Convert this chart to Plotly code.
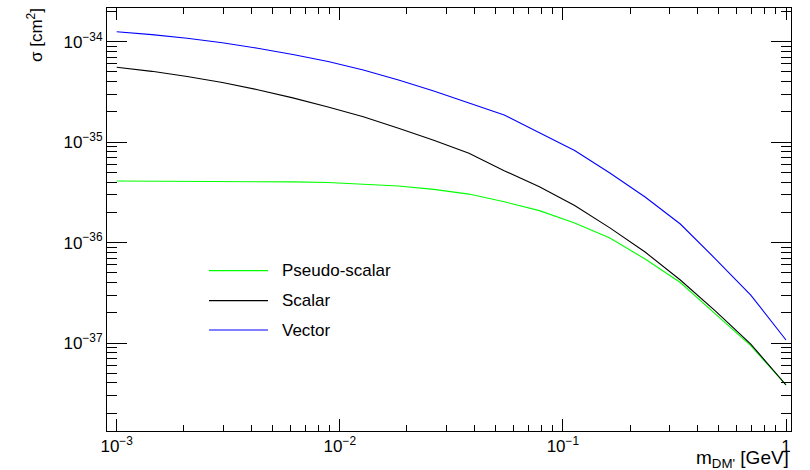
import plotly.graph_objects as go

# ---- data ----
mass_gev = [0.001, 0.001438, 0.002069, 0.002976, 0.004281, 0.006158, 0.008859,
            0.012743, 0.01833, 0.026367, 0.037927, 0.054556, 0.078476, 0.112884,
            0.162378, 0.233572, 0.335982, 0.483293, 0.695193, 1.0]

sigma_pseudoscalar = [4.10e-36, 4.09e-36, 4.08e-36, 4.06e-36, 4.05e-36, 4.02e-36, 3.96e-36,
                      3.83e-36, 3.66e-36, 3.39e-36, 3.04e-36, 2.55e-36, 2.08e-36, 1.57e-36,
                      1.11e-36, 6.86e-37, 4.00e-37, 1.94e-37, 9.44e-38, 3.82e-38]

sigma_scalar = [5.56e-35, 5.07e-35, 4.51e-35, 3.93e-35, 3.33e-35, 2.76e-35, 2.24e-35,
                1.79e-35, 1.376e-35, 1.043e-35, 7.74e-36, 5.19e-36, 3.60e-36, 2.34e-36,
                1.40e-36, 8.05e-37, 4.24e-37, 2.08e-37, 9.77e-38, 3.82e-38]

sigma_vector = [1.258e-34, 1.177e-34, 1.081e-34, 9.75e-35, 8.62e-35, 7.47e-35, 6.35e-35,
                5.23e-35, 4.155e-35, 3.228e-35, 2.452e-35, 1.863e-35, 1.242e-35, 8.25e-36,
                4.93e-36, 2.84e-36, 1.53e-36, 6.86e-37, 3.00e-37, 1.071e-37]

series_names = ["Pseudo-scalar", "Scalar", "Vector"]
series_colors = ["#00ff00", "#000000", "#0000ff"]
series_values = [sigma_pseudoscalar, sigma_scalar, sigma_vector]

x_major_ticks = [1e-3, 1e-2, 1e-1, 1]
x_tick_labels = ["10<sup>−3</sup>", "10<sup>−2</sup>", "10<sup>−1</sup>", "1"]
y_major_ticks = [1e-37, 1e-36, 1e-35, 1e-34]
y_tick_labels = ["10<sup>−37</sup>", "10<sup>−36</sup>", "10<sup>−35</sup>", "10<sup>−34</sup>"]
x_decades = [-4, -3, -2, -1, 0]
y_decades = [-38, -37, -36, -35, -34]

FONT = "Liberation Sans, Arial, Helvetica, sans-serif"

x_minor_ticks = [m * 10.0 ** e for e in x_decades for m in range(2, 10)]
y_minor_ticks = [m * 10.0 ** e for e in y_decades for m in range(2, 10)]

X_RANGE = [-3.0435, 0.0224]
Y_RANGE = [-37.876, -33.6644]

fig = go.Figure()
for name, color, vals in zip(series_names, series_colors, series_values):
    fig.add_trace(go.Scatter(x=mass_gev, y=vals, mode="lines", name=name,
                             line=dict(color=color, width=1.1), showlegend=False))
# empty trace to activate the overlay axes that carry the minor ticks
fig.add_trace(go.Scatter(x=[None], y=[None], xaxis="x2", yaxis="y2", mode="lines",
                         showlegend=False, hoverinfo="skip"))

W, H = 810, 470
ML, MR, MT, MB = 107, 19, 8, 39
pw, ph = W - ML - MR, H - MT - MB


def px_to_paper_x(px):
    return (px - ML) / pw


def px_to_paper_y(py):
    return 1 - (py - MT) / ph


common_axis = dict(type="log", showline=True, linecolor="black", linewidth=1,
                   mirror="allticks", ticks="inside", tickcolor="black", tickwidth=1,
                   tickmode="array", showgrid=False, zeroline=False,
                   tickfont=dict(family=FONT, size=17, color="black"))

fig.update_layout(
    width=W, height=H,
    margin=dict(l=ML, r=MR, t=MT, b=MB, pad=0),
    paper_bgcolor="white", plot_bgcolor="white",
    font=dict(family=FONT, size=17, color="black"),
    showlegend=False,
    xaxis=dict(common_axis, range=X_RANGE, ticklen=12, tickvals=x_major_ticks,
               ticktext=x_tick_labels),
    yaxis=dict(common_axis, range=Y_RANGE, ticklen=20, tickvals=y_major_ticks,
               ticktext=y_tick_labels),
    xaxis2=dict(common_axis, range=X_RANGE, ticklen=6, tickvals=x_minor_ticks,
                showticklabels=False, overlaying="x", anchor="y2", side="bottom"),
    yaxis2=dict(common_axis, range=Y_RANGE, ticklen=10, tickvals=y_minor_ticks,
                showticklabels=False, overlaying="y", anchor="x2", side="left"),
)

annotations = []
# axis titles
annotations.append(dict(text="σ [cm<sup>2</sup>]", textangle=-90, xref="paper", yref="paper",
                        x=px_to_paper_x(35), y=px_to_paper_y(6), xanchor="center", yanchor="top",
                        showarrow=False, font=dict(family=FONT, size=17, color="black")))
annotations.append(dict(text="m<sub>DM'</sub> [GeV]", xref="paper", yref="paper",
                        x=px_to_paper_x(791), y=px_to_paper_y(459), xanchor="right", yanchor="middle",
                        showarrow=False, font=dict(family=FONT, size=19, color="black")))

# legend (drawn as lines + text)
legend_rows = [270.7, 300.7, 330.0]
shapes = []
for name, color, ry in zip(series_names, series_colors, legend_rows):
    shapes.append(dict(type="line", xref="paper", yref="paper",
                       x0=px_to_paper_x(209), x1=px_to_paper_x(268),
                       y0=px_to_paper_y(ry), y1=px_to_paper_y(ry),
                       line=dict(color=color, width=1.2)))
    annotations.append(dict(text=name, xref="paper", yref="paper",
                            x=px_to_paper_x(280), y=px_to_paper_y(ry),
                            xanchor="left", yanchor="middle", showarrow=False,
                            font=dict(family=FONT, size=17, color="black")))

fig.update_layout(annotations=annotations, shapes=shapes)

fig.write_html("out.html")
